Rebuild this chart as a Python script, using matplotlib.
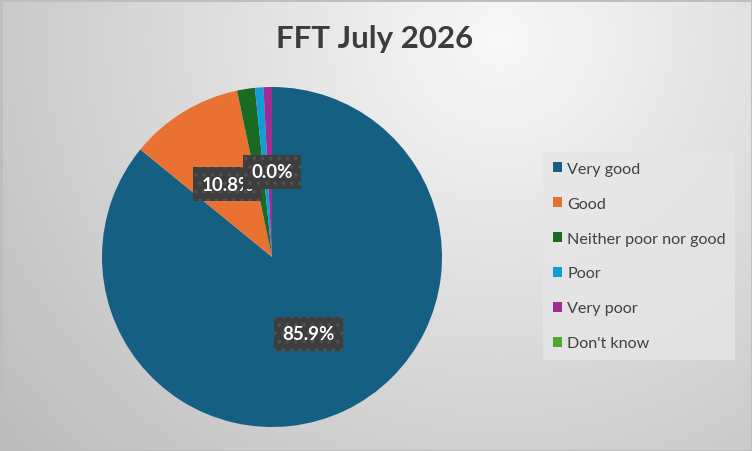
import numpy as np
import matplotlib.pyplot as plt
from matplotlib.patches import Rectangle

# ---- data ----
categories = ["Very good", "Good", "Neither poor nor good", "Poor", "Very poor", "Don't know"]
shares = [85.9, 10.8, 1.7, 0.8, 0.8, 0.0]
colors = ["#156082", "#E97132", "#196B24", "#0F9ED5", "#A02B93", "#4EA72E"]
shown_labels = ["85.9%", "10.8%", None, None, None, "0.0%"]
title = "FFT July 2026"

plt.rcParams['font.family'] = ['Lato', 'DejaVu Sans']
plt.rcParams['hatch.linewidth'] = 1.5

fig = plt.figure(figsize=(7.52, 4.52), dpi=100)

# background gradient
bg = fig.add_axes([0, 0, 1, 1])
bg.set_axis_off()
yy, xx = np.mgrid[0:452, 0:752]
d = np.hypot(xx - 500, (yy - 40) * 1.05)
shade = np.clip(0.975 - 0.19 * d / 520, 0, 1)
bg.imshow(np.dstack([shade] * 3), extent=[0, 752, 452, 0], aspect='auto')
bg.add_patch(Rectangle((0.5, 0.5), 751, 451, fill=False, ec="#bdbdbd", lw=2))
bg.set_xlim(0, 752)
bg.set_ylim(452, 0)

fig.text(374.5 / 752, 1 - 39 / 452, title, ha='center', va='center',
         fontsize=22.5, fontweight='bold', color='#3c3c3c')

# pie
ax = fig.add_axes([102 / 752, 24 / 452, 340 / 752, 340 / 452])
wedges, _ = ax.pie(shares, colors=colors, startangle=90, counterclock=False,
                   radius=1.0, wedgeprops=dict(linewidth=0))
ax.set_xlim(-1, 1)
ax.set_ylim(-1, 1)
ax.set_aspect('equal')

for w, lab in zip(wedges, shown_labels):
    if lab is None:
        continue
    mid = np.deg2rad((w.theta1 + w.theta2) / 2)
    x, y = 0.5 * np.cos(mid), 0.5 * np.sin(mid)
    ax.text(x, y, lab, ha='center', va='center', color='white', fontsize=13.5,
            fontweight='bold', zorder=5,
            bbox=dict(boxstyle='square,pad=0.45', fc='#3d3d3d', ec='#4f4f4f',
                      lw=0, hatch='..'))

leg = fig.legend(wedges, categories, loc='upper left',
                 bbox_to_anchor=(543 / 752, 1 - 153 / 452),
                 frameon=True, fancybox=False, fontsize=11.6,
                 handlelength=0.6, handleheight=0.6, handletextpad=0.3,
                 labelspacing=1.3, borderpad=0.6, borderaxespad=0)
leg.get_frame().set_facecolor('#e6e6e6')
leg.get_frame().set_alpha(0.8)
leg.get_frame().set_linewidth(0)
for t in leg.get_texts():
    t.set_color('#404040')

fig.savefig('out.png', dpi=100)
